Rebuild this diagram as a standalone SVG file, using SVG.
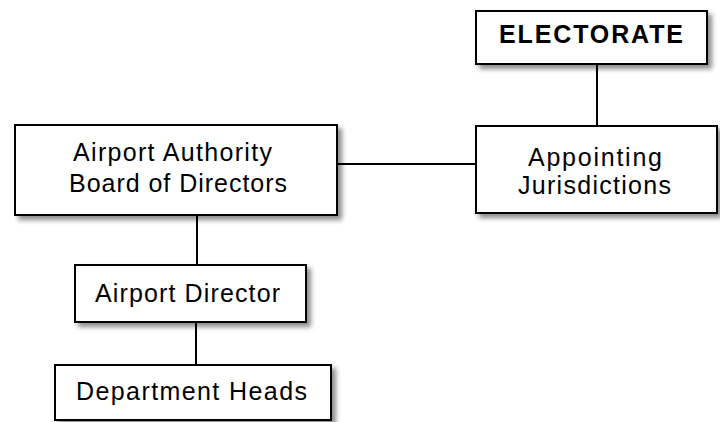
<svg xmlns="http://www.w3.org/2000/svg" width="720" height="422" viewBox="0 0 720 422">
  <defs>
    <filter id="shadow" x="-10%" y="-20%" width="130%" height="150%">
      <feDropShadow dx="4" dy="4" stdDeviation="2.5" flood-color="#000" flood-opacity="0.45"/>
    </filter>
  </defs>
  <style>
    .box { fill: #fff; stroke: #000; stroke-width: 2; filter: url(#shadow); }
    .lbl { font-family: "Liberation Sans", Arial, sans-serif; font-size: 25px; fill: #000; text-anchor: middle; }
    .bold { font-weight: bold; }
    .conn line { stroke: #000; stroke-width: 2; }
  </style>
  <rect width="720" height="422" fill="#fff"/>

  <g id="connectors" class="conn">
    <line x1="597" y1="64" x2="597" y2="126"/>
    <line x1="337" y1="164" x2="476" y2="164"/>
    <line x1="197" y1="215" x2="197" y2="265"/>
    <line x1="196" y1="322" x2="196" y2="365"/>
  </g>

  <g id="electorate">
    <rect class="box" x="476" y="11" width="231" height="53"/>
    <text class="lbl bold" x="591" y="43" textLength="184" lengthAdjust="spacing">ELECTORATE</text>
  </g>

  <g id="appointing-jurisdictions">
    <rect class="box" x="476" y="126" width="241" height="87"/>
    <text class="lbl" x="595" y="166" textLength="134" lengthAdjust="spacing">Appointing</text>
    <text class="lbl" x="594.5" y="194" textLength="153" lengthAdjust="spacing">Jurisdictions</text>
  </g>

  <g id="airport-authority">
    <rect class="box" x="15" y="125" width="322" height="90"/>
    <text class="lbl" x="172.5" y="161" textLength="199" lengthAdjust="spacing">Airport Authority</text>
    <text class="lbl" x="178" y="192" textLength="218" lengthAdjust="spacing">Board of Directors</text>
  </g>

  <g id="airport-director">
    <rect class="box" x="75" y="265" width="231" height="57"/>
    <text class="lbl" x="187.5" y="302" textLength="185" lengthAdjust="spacing">Airport Director</text>
  </g>

  <g id="department-heads">
    <rect class="box" x="55" y="365" width="276" height="55"/>
    <text class="lbl" x="191.5" y="400" textLength="231" lengthAdjust="spacing">Department Heads</text>
  </g>
</svg>
